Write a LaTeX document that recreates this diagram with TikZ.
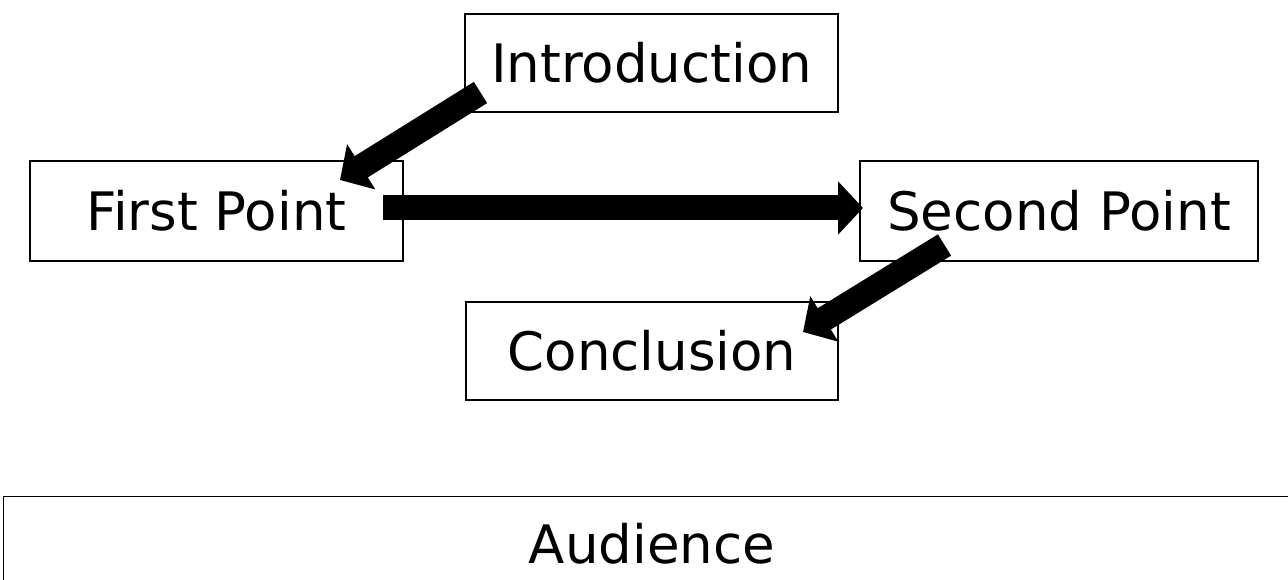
\documentclass[tikz,border=0pt]{standalone}
\usepackage{fontspec}
\setmainfont{DejaVu Sans}
\usetikzlibrary{arrows.meta}
\begin{document}
\begin{tikzpicture}[x=1pt,y=-1pt,
  box/.style={draw=black,line width=1.3pt,inner sep=0pt,font=\fontsize{53}{60}\selectfont,text=black},
  blockarrow/.style={draw=black,line width=25pt,line cap=butt,-{Triangle[length=25pt,width=52pt]}}]
\clip (0,0) rectangle (1288,580);
\fill[white] (0,0) rectangle (1288,580);
\node[box,minimum width=373pt,minimum height=98pt] (intro) at (651.5,63) {Introduction};
\node[box,minimum width=373pt,minimum height=100pt] (first) at (216.5,211) {First Point};
\node[box,minimum width=398pt,minimum height=100pt] (second) at (1059,211) {Second Point};
\node[box,minimum width=372pt,minimum height=98pt] (concl) at (652,351) {Conclusion};
\node[box,minimum width=1300pt,minimum height=110pt,anchor=north west] (aud) at (3,496) {};
\node[font=\fontsize{53}{60}\selectfont,inner sep=0pt] (audtext) at (652,544) {Audience};
\coordinate (a1s) at (480.5,92.5);
\coordinate (a1e) at (340,180);
\coordinate (a2s) at (383,208);
\coordinate (a2e) at (863,208);
\coordinate (a3s) at (944.5,245);
\coordinate (a3e) at (803,332);
\draw[blockarrow] (a1s) -- (a1e);
\draw[blockarrow] (a2s) -- (a2e);
\draw[blockarrow] (a3s) -- (a3e);
\end{tikzpicture}
\end{document}
